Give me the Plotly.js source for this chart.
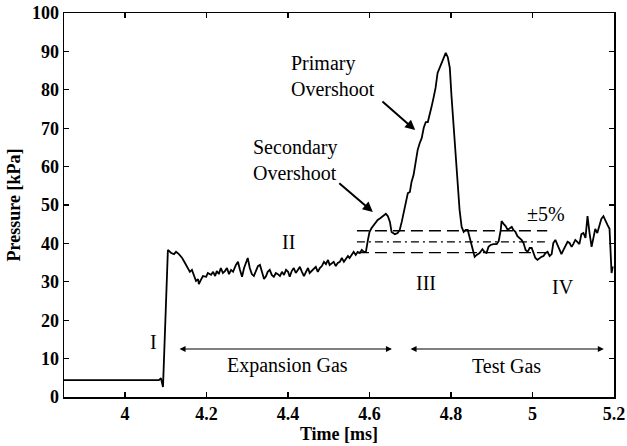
<!DOCTYPE html>
<html>
<head>
<meta charset="utf-8">
<script src="https://cdn.plot.ly/plotly-3.0.1.min.js"></script>
<style>html,body{margin:0;padding:0;background:#fff;}#chart{width:627px;height:446px;}</style>
</head>
<body>
<div id="chart"></div>
<script>
// Time (ms)
const timeMs = [
3.850,3.914,3.988,4.061,4.083,4.088,4.093,4.105,4.113,4.120,4.125,4.132,4.140,4.147,4.154,4.159,4.164,4.169,4.174,4.179,
4.181,4.186,4.191,4.199,4.203,4.211,4.216,4.221,4.225,4.230,4.235,4.240,4.245,4.250,4.255,4.260,4.265,4.272,4.277,4.282,
4.287,4.292,4.297,4.301,4.306,4.311,4.316,4.321,4.326,4.331,4.336,4.341,4.346,4.350,4.355,4.360,4.365,4.370,4.375,4.380,
4.385,4.390,4.395,4.400,4.404,4.409,4.414,4.419,4.424,4.429,4.434,4.439,4.444,4.449,4.453,4.458,4.463,4.468,4.473,4.478,
4.483,4.488,4.493,4.498,4.502,4.507,4.512,4.517,4.522,4.527,4.532,4.537,4.542,4.547,4.551,4.556,4.561,4.566,4.571,4.576,
4.581,4.586,4.591,4.596,4.600,4.605,4.613,4.620,4.627,4.635,4.640,4.645,4.650,4.654,4.662,4.669,4.674,4.679,4.684,4.689,
4.694,4.699,4.703,4.708,4.713,4.718,4.723,4.728,4.733,4.738,4.743,4.748,4.752,4.757,4.762,4.767,4.772,4.777,4.782,4.787,
4.792,4.797,4.801,4.806,4.811,4.816,4.821,4.826,4.831,4.836,4.841,4.846,4.853,4.858,4.863,4.870,4.877,4.882,4.887,4.892,
4.897,4.904,4.912,4.917,4.922,4.924,4.929,4.934,4.939,4.944,4.949,4.953,4.958,4.963,4.968,4.973,4.978,4.983,4.988,4.993,
4.998,5.002,5.007,5.012,5.017,5.022,5.027,5.032,5.037,5.042,5.047,5.051,5.056,5.061,5.066,5.071,5.076,5.081,5.086,5.091,
5.096,5.100,5.105,5.110,5.115,5.120,5.125,5.130,5.135,5.140,5.145,5.150,5.154,5.159,5.164,5.169,5.174,5.179,5.184,5.189,
5.194,5.197
];
// Pressure (kPa)
const pressureKPa = [
4.4,4.4,4.3,4.4,4.4,4.9,2.6,38.3,37.5,37.2,37.8,37.2,36.2,34.9,33.6,32.6,33.1,31.5,30.2,30.7,
29.4,30.5,31.5,31.3,32.3,31.8,32.6,31.5,32.8,32.0,33.6,32.3,32.8,33.6,32.0,33.1,32.6,34.4,35.2,33.1,
31.3,33.6,35.2,36.2,33.6,32.0,31.5,33.1,34.1,34.4,32.6,30.7,31.5,32.6,33.1,31.8,31.3,32.3,32.0,31.5,
32.6,31.8,33.1,32.6,31.3,32.8,33.6,32.3,33.1,33.9,32.6,31.5,32.6,33.6,32.3,32.8,33.3,33.9,32.6,33.6,
34.1,35.2,34.6,35.7,34.4,34.9,35.2,34.1,34.9,35.2,36.2,35.2,35.9,36.7,36.2,37.0,37.8,37.0,37.8,37.5,
38.3,37.8,37.8,40.9,43.0,44.0,45.1,46.1,46.6,47.4,47.7,47.1,45.6,43.0,42.4,42.7,43.5,45.6,48.2,51.3,
53.1,53.4,56.0,57.8,60.9,64.3,66.1,67.4,70.1,71.6,71.6,73.4,75.5,77.9,80.5,84.4,85.7,86.5,87.8,89.6,
88.5,85.7,78.6,70.8,61.7,53.9,48.7,44.3,43.0,43.5,43.5,41.4,38.3,36.5,37.0,37.5,38.5,37.8,37.5,39.1,
39.6,39.8,39.8,40.6,43.5,45.8,45.1,44.5,43.5,44.0,44.3,43.5,43.0,41.9,41.4,40.9,40.1,38.3,37.8,38.8,
38.8,37.8,36.2,35.7,36.2,36.5,36.7,37.5,37.8,36.7,37.2,40.1,40.9,39.6,38.3,37.2,38.3,39.3,40.4,40.1,
39.1,39.8,40.9,40.4,39.8,42.4,42.7,41.4,47.1,42.7,39.1,41.7,43.8,42.7,44.3,46.4,47.1,45.8,44.8,43.8,
32.3,34.0
];
// ±5% band around test-gas mean
const bandLevels = [37.6, 40.4, 43.3];
const bandStyles = ['12px,6px', '8px,4px,2px,4px', '12px,6px'];
const bandStart = 4.569, bandEnd = 5.036;
// Gas period arrows
const expansionGas = [4.130, 4.655];
const testGas = [4.697, 5.175];
const arrowLevel = 12.5;
// Tick labels
const xTickVals = [4, 4.2, 4.4, 4.6, 4.8, 5, 5.2];
const xTickText = ['4', '4.2', '4.4', '4.6', '4.8', '5', '5.2'];
const yTickVals = [0,10,20,30,40,50,60,70,80,90,100];

const FONT = 'Liberation Serif, Times New Roman, serif';

const traces = [{
  x: timeMs, y: pressureKPa, type: 'scatter', mode: 'lines',
  line: {color: '#000', width: 1.8}, hoverinfo: 'skip', showlegend: false
}];

const shapes = bandLevels.map((lv, i) => ({
  type: 'line', xref: 'x', yref: 'y', x0: bandStart, x1: bandEnd, y0: lv, y1: lv,
  line: {color: '#000', width: 1.3, dash: bandStyles[i]}
}));

const txt = (text, x, y, extra) => Object.assign({
  text, x, y, xref: 'x', yref: 'y', showarrow: false,
  font: {family: FONT, size: 20, color: '#000'}
}, extra || {});

const annotations = [
  txt('Primary<br>Overshoot', 4.511, 83.5, {align: 'left'}),
  txt('Secondary<br>Overshoot', 4.417, 61.7, {align: 'left'}),
  txt('I', 4.069, 14.3),
  txt('II', 4.40, 40.4),
  txt('III', 4.739, 29.7),
  txt('IV', 5.075, 28.6),
  txt('±5%', 5.033, 47.7),
  txt('Expansion Gas', 4.398, 8.1),
  txt('Test Gas', 4.937, 8.1),
  // pointer arrows
  {x: 4.712, y: 69.5, ax: 4.628, ay: 77.3, xref: 'x', yref: 'y', axref: 'x', ayref: 'y',
   text: '', showarrow: true, arrowhead: 2, arrowsize: 1, arrowwidth: 2, arrowcolor: '#000'},
  {x: 4.608, y: 48.2, ax: 4.522, ay: 56.0, xref: 'x', yref: 'y', axref: 'x', ayref: 'y',
   text: '', showarrow: true, arrowhead: 2, arrowsize: 1, arrowwidth: 2, arrowcolor: '#000'},
  // double arrows
  {x: expansionGas[1], y: arrowLevel, ax: expansionGas[0], ay: arrowLevel, xref: 'x', yref: 'y', axref: 'x', ayref: 'y',
   text: '', showarrow: true, arrowhead: 2, startarrowhead: 2, arrowside: 'end+start', arrowsize: 1.2, startarrowsize: 1.2, arrowwidth: 1, arrowcolor: '#000'},
  {x: testGas[1], y: arrowLevel, ax: testGas[0], ay: arrowLevel, xref: 'x', yref: 'y', axref: 'x', ayref: 'y',
   text: '', showarrow: true, arrowhead: 2, startarrowhead: 2, arrowside: 'end+start', arrowsize: 1.2, startarrowsize: 1.2, arrowwidth: 1, arrowcolor: '#000'}
];

const axisCommon = {
  showline: true, linecolor: '#000', linewidth: 1.5, mirror: 'ticks',
  ticks: 'inside', ticklen: 5, tickwidth: 1.3, tickcolor: '#000',
  showgrid: false, zeroline: false,
  tickfont: {family: FONT, size: 18, color: '#000', weight: 'bold'}
};

const layout = {
  width: 627, height: 446,
  margin: {l: 64, r: 13, t: 13, b: 49},
  paper_bgcolor: '#fff', plot_bgcolor: '#fff',
  showlegend: false,
  xaxis: Object.assign({}, axisCommon, {
    range: [3.85, 5.2], tickmode: 'array', tickvals: xTickVals, ticktext: xTickText,
    title: {text: 'Time [ms]', font: {family: FONT, size: 18, color: '#000', weight: 'bold'}, standoff: 2}
  }),
  yaxis: Object.assign({}, axisCommon, {
    range: [0, 100], tickmode: 'array', tickvals: yTickVals,
    title: {text: 'Pressure [kPa]', font: {family: FONT, size: 18, color: '#000', weight: 'bold'}, standoff: 6}
  }),
  shapes, annotations
};

Plotly.newPlot('chart', traces, layout, {staticPlot: true, displayModeBar: false});
</script>
</body>
</html>
